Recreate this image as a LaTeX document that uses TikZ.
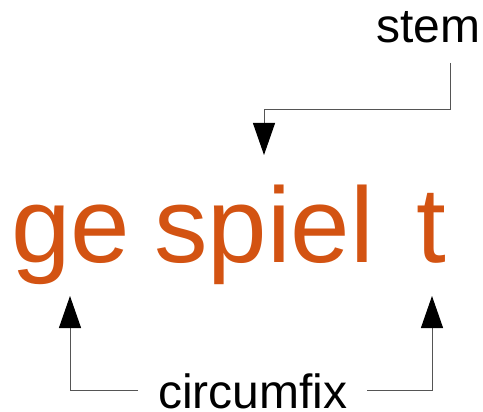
\documentclass[tikz,border=0pt]{standalone}
\usepackage{fontspec}
\setmainfont{Liberation Sans}
\usetikzlibrary{arrows.meta}
\definecolor{rust}{RGB}{211,83,18}
\definecolor{lineg}{RGB}{85,85,85}
\begin{document}
\begin{tikzpicture}[x=1pt,y=-1pt,
  big/.style={anchor=base west,inner sep=0pt,text=rust,font=\fontsize{107}{120}\selectfont},
  lbl/.style={anchor=base west,inner sep=0pt,text=black,font=\fontsize{48}{56}\selectfont},
  conn/.style={draw=lineg,line width=1pt,-{Triangle[width=22pt,length=32pt,fill=black,color=black]}}]
\useasboundingbox (0,0) rectangle (483,412);
\node[big] (ge) at (11,262) {ge};
\node[big] (spiel) at (154,262) {spiel};
\node[big] (t) at (416,262) {t};
\node[lbl] (stem) at (376,43) {stem};
\node[lbl] (circ) at (158,408) {circumfix};
\coordinate (s0) at (450,63);
\coordinate (s1) at (450,110);
\coordinate (s2) at (264,110);
\coordinate (stip) at (264,155);
\coordinate (l0) at (138,390);
\coordinate (l1) at (70,390);
\coordinate (ltip) at (70,296);
\coordinate (r0) at (367,390);
\coordinate (r1) at (432,390);
\coordinate (rtip) at (432,296);
\draw[conn] (s0) -- (s1) -- (s2) -- (stip);
\draw[conn] (l0) -- (l1) -- (ltip);
\draw[conn] (r0) -- (r1) -- (rtip);
\end{tikzpicture}
\end{document}
